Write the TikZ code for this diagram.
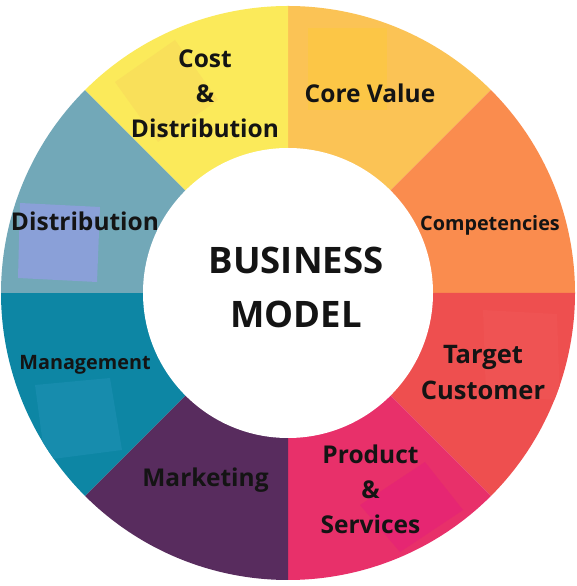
\documentclass[tikz,border=0pt]{standalone}
\usepackage{fontspec}
\setmainfont{Open Sans}
\definecolor{cCost}{HTML}{FBEA5A}
\definecolor{cCostSq}{HTML}{F9E05A}
\definecolor{cCore}{HTML}{FBC355}
\definecolor{cCoreSq}{HTML}{FCC646}
\definecolor{cComp}{HTML}{FA8C4E}
\definecolor{cTarget}{HTML}{EE4F4F}
\definecolor{cTargetSq}{HTML}{EF5353}
\definecolor{cProd}{HTML}{E8306A}
\definecolor{cProdSq}{HTML}{E62672}
\definecolor{cMark}{HTML}{582C5E}
\definecolor{cMgmt}{HTML}{0D86A4}
\definecolor{cMgmtSq}{HTML}{178CAD}
\definecolor{cDist}{HTML}{72A8B8}
\definecolor{cDistSq}{HTML}{8AA0D8}
\definecolor{cText}{HTML}{141414}
\newcommand\ringsector[3]{\fill[#3] (C) -- ++(#1:287) arc[start angle=#1,end angle=#2,radius=287] -- cycle;}
\newcommand\sectorclip[2]{\clip (C) -- ++(#1:287) arc[start angle=#1,end angle=#2,radius=287] -- cycle;}
\begin{document}
\begin{tikzpicture}[x=1pt,y=1pt,
  lbl/.style={font=\bfseries, text=cText, align=center, inner sep=0pt},
  mid/.style={lbl, font=\fontsize{24.5}{35}\selectfont\bfseries},
  midl/.style={lbl, font=\fontsize{25.5}{36}\selectfont\bfseries},
  small/.style={lbl, font=\fontsize{19.8}{30}\selectfont\bfseries},
  big/.style={lbl, font=\fontsize{36.5}{54}\selectfont\bfseries}]
\useasboundingbox (0,0) rectangle (576,586);
\fill[white] (0,0) rectangle (576,586);
\coordinate (C) at (288,293);
% sectors
\ringsector{45}{90}{cCore}
\ringsector{0}{45}{cComp}
\ringsector{-45}{0}{cTarget}
\ringsector{-90}{-45}{cProd}
\ringsector{-135}{-90}{cMark}
\ringsector{180}{225}{cMgmt}
\ringsector{135}{180}{cDist}
\ringsector{90}{135}{cCost}
% faint overlay squares
\begin{scope}\sectorclip{90}{135}
  \fill[cCostSq] (115,504) -- (175,546) -- (218,486) -- (158,444) -- cycle;
\end{scope}
\begin{scope}\sectorclip{45}{90}
  \fill[cCoreSq] (308,558) rectangle (387,476);
\end{scope}
\begin{scope}\sectorclip{135}{180}
  \fill[cDistSq] (20,383) -- (100,379) -- (97,304) -- (18,308) -- cycle;
\end{scope}
\begin{scope}\sectorclip{180}{225}
  \fill[cMgmtSq] (35,201) -- (110,208) -- (122,136) -- (45,126) -- cycle;
\end{scope}
\begin{scope}\sectorclip{-45}{0}
  \fill[cTargetSq] (483,276) -- (557,272) -- (560,186) -- (486,190) -- cycle;
\end{scope}
\begin{scope}\sectorclip{-90}{-45}
  \fill[cProdSq] (360,81) -- (425,124) -- (463,76) -- (400,34) -- cycle;
\end{scope}
% centre hole
\fill[white] (C) circle[radius=145];
% labels
\node[big]   (bm)     at (296,298.5) {BUSINESS\\MODEL};
\node[mid]   (cost)   at (205,492.5) {Cost\\\&\\Distribution};
\node[mid]   (core)   at (370,492.5) {Core Value};
\node[small] (comp)   at (490,361)   {Competencies};
\node[midl]  (target) at (483,213.5) {Target\\Customer};
\node[mid]   (prod)   at (370.5,97)  {Product\\\&\\Services};
\node[mid]   (mark)   at (205.5,106) {Marketing};
\node[small] (mgmt)   at (85,221)    {Management};
\node[mid]   (dist)   at (85,365)    {Distribution};
\end{tikzpicture}
\end{document}
